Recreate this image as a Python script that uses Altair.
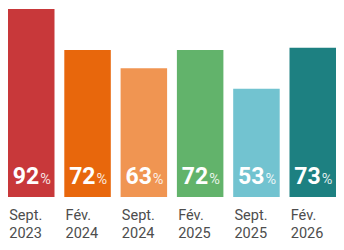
import altair as alt
import pandas as pd

categories = ["Sept. 2023", "Fév. 2024", "Sept. 2024", "Fév. 2025", "Sept. 2025", "Fév. 2026"]
line1 = ["Sept.", "Fév.", "Sept.", "Fév.", "Sept.", "Fév."]
line2 = ["2023", "2024", "2024", "2025", "2025", "2026"]
values = [92, 72, 63, 72, 53, 73]
colors = ["#C8383A", "#E8670C", "#F09552", "#62B36B", "#72C3D0", "#1D8081"]

df = pd.DataFrame({"cat": categories, "l1": line1, "l2": line2,
                   "val": values, "col": colors})
df["num"] = df["val"].astype(str)
df["pct"] = "%"

xs = alt.Scale(paddingInner=0.174, paddingOuter=0)
x = alt.X("cat:N", sort=categories, title=None, scale=xs, axis=None)
y = alt.Y("val:Q", scale=alt.Scale(domain=[0, 92.5], nice=False), axis=None)

base = alt.Chart(df)

bars = base.mark_bar().encode(
    x=x, y=y, color=alt.Color("col:N", scale=None)
)

num = base.mark_text(
    align="right", baseline="alphabetic", dx=8, dy=-13,
    font="Roboto", fontSize=23, fontWeight="bold", color="white"
).encode(x=x, y=alt.datum(0), text="num:N")

pct = base.mark_text(
    align="left", baseline="alphabetic", dx=9, dy=-13,
    font="Roboto", fontSize=14.5, color="white", opacity=0.85
).encode(x=x, y=alt.datum(0), text="pct:N")

lab1 = base.mark_text(
    align="left", baseline="alphabetic", dx=-22,
    font="Roboto", fontSize=14.5, color="#4d4d4d"
).encode(x=x, y=alt.value(212), text="l1:N")

lab2 = base.mark_text(
    align="left", baseline="alphabetic", dx=-22,
    font="Roboto", fontSize=14.5, color="#4d4d4d"
).encode(x=x, y=alt.value(230), text="l2:N")

chart = alt.layer(bars, num, pct, lab1, lab2).properties(
    width=328, height=189,
    autosize=alt.AutoSizeParams(type="none"),
    padding={"left": 0, "right": 0, "top": 0, "bottom": 45}
).configure_view(stroke=None)

chart.save("out.html", embed_options={"renderer": "svg", "actions": False})
